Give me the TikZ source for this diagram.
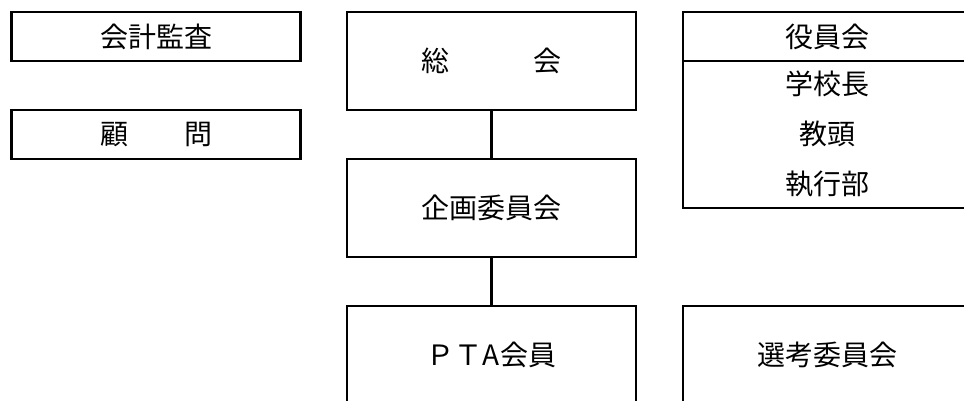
\documentclass[tikz,border=0pt]{standalone}
\usepackage{fontspec}
\newfontfamily\jpfont{Noto Sans CJK JP}
\begin{document}
\begin{tikzpicture}[x=1pt, y=1pt, node distance=49pt,
    box/.style={draw, line width=2.8pt, minimum width=289pt, inner sep=0pt,
      font=\jpfont\fontsize{28}{50}\selectfont, align=center},
    small/.style={box, minimum height=49pt},
    tall/.style={box, minimum height=98pt}]
            \clip (0,0) rectangle (964,-400);

            % Middle
            \node(soukai) [tall] at (491.5,-61) {総　　　会};
            \node(kikaku) [tall, below of=soukai, yshift=-98pt] {企画委員会};
            \node(pta) [tall, below of=kikaku, yshift=-98pt] {ＰＴA会員};

            % Left
            \node(kaikei) [small] at (156,-36.5) {会計監査};
            \node(komon) [small, below of=kaikei, yshift=-49pt] {顧　　問};

            % Right
            \node(yakuin) [small] at (827.5,-36.5) {役員会};
            \node(members) [box, minimum height=147pt, below of=yakuin, yshift=-49pt]
            {学校長\\教頭\\執行部};
            \node(senkou) [tall] at (827.5,-355) {選考委員会};

            % Draw Lines
            \draw[line width=2.8pt] (soukai) -- (kikaku);
            \draw[line width=2.8pt] (kikaku) -- (pta);

        \end{tikzpicture}
\end{document}
